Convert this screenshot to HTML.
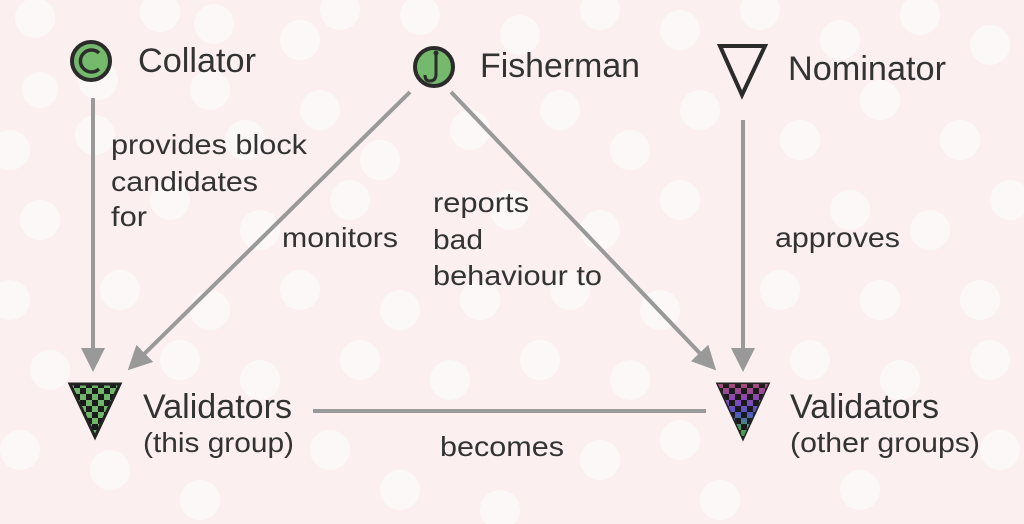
<!DOCTYPE html>
<html><head><meta charset="utf-8"><style>
html,body{margin:0;padding:0;background:#fbefef;}
svg{display:block}
text{font-family:"Liberation Sans",Arial,sans-serif;fill:#333;}
</style></head><body>
<svg width="1024" height="524" viewBox="0 0 1024 524" xmlns="http://www.w3.org/2000/svg">
<defs>
<pattern id="chkG" x="68" y="382" width="12" height="12" patternUnits="userSpaceOnUse">
<rect width="12" height="12" fill="#1a1a1a"/><rect x="0" y="0" width="6" height="6" fill="#6fb66a"/><rect x="6" y="6" width="6" height="6" fill="#6fb66a"/>
</pattern>
<linearGradient id="rb" x1="0" y1="0" x2="0" y2="1">
<stop offset="0" stop-color="#b04a70"/><stop offset="0.3" stop-color="#8a48b8"/><stop offset="0.55" stop-color="#4f58c8"/><stop offset="0.8" stop-color="#48a058"/>
</linearGradient>
<pattern id="chkR" x="717" y="382" width="12" height="12" patternUnits="userSpaceOnUse">
<rect width="12" height="12" fill="#000"/><rect x="0" y="0" width="6" height="6" fill="#fff"/><rect x="6" y="6" width="6" height="6" fill="#fff"/>
</pattern>
<mask id="mR"><polygon points="718,384 768,384 743,438" fill="url(#chkR)"/></mask>
<marker id="ah" markerWidth="6" markerHeight="6" refX="4.5" refY="3" orient="auto" markerUnits="strokeWidth">
<path d="M0,0 L6,3 L0,6 z" fill="#999"/></marker>
</defs>
<rect width="1024" height="524" fill="#fbefef"/>
<g fill="#fdf8f8">
<circle cx="35" cy="18" r="20"/><circle cx="160" cy="12" r="20"/><circle cx="214" cy="24" r="20"/><circle cx="98" cy="80" r="20"/><circle cx="210" cy="90" r="20"/><circle cx="40" cy="90" r="18"/><circle cx="300" cy="40" r="20"/><circle cx="340" cy="10" r="20"/><circle cx="420" cy="15" r="20"/><circle cx="520" cy="35" r="20"/><circle cx="600" cy="10" r="20"/><circle cx="680" cy="30" r="20"/><circle cx="760" cy="10" r="20"/><circle cx="840" cy="40" r="20"/><circle cx="920" cy="15" r="20"/><circle cx="990" cy="45" r="20"/>
<circle cx="10" cy="150" r="20"/><circle cx="95" cy="135" r="20"/><circle cx="245" cy="140" r="20"/><circle cx="320" cy="110" r="20"/><circle cx="380" cy="160" r="20"/><circle cx="470" cy="130" r="20"/><circle cx="560" cy="110" r="20"/><circle cx="630" cy="150" r="20"/><circle cx="700" cy="110" r="20"/><circle cx="800" cy="140" r="20"/><circle cx="880" cy="100" r="20"/><circle cx="960" cy="140" r="20"/>
<circle cx="40" cy="220" r="20"/><circle cx="170" cy="200" r="20"/><circle cx="260" cy="230" r="20"/><circle cx="350" cy="200" r="20"/><circle cx="510" cy="210" r="20"/><circle cx="600" cy="230" r="20"/><circle cx="680" cy="200" r="20"/><circle cx="850" cy="210" r="20"/><circle cx="930" cy="230" r="20"/><circle cx="1010" cy="200" r="20"/>
<circle cx="10" cy="300" r="20"/><circle cx="120" cy="290" r="20"/><circle cx="210" cy="310" r="20"/><circle cx="300" cy="290" r="20"/><circle cx="400" cy="310" r="20"/><circle cx="480" cy="300" r="20"/><circle cx="570" cy="290" r="20"/><circle cx="660" cy="310" r="20"/><circle cx="780" cy="290" r="20"/><circle cx="880" cy="300" r="20"/><circle cx="980" cy="300" r="20"/>
<circle cx="50" cy="370" r="20"/><circle cx="180" cy="360" r="20"/><circle cx="260" cy="380" r="20"/><circle cx="360" cy="360" r="20"/><circle cx="450" cy="380" r="20"/><circle cx="540" cy="360" r="20"/><circle cx="630" cy="380" r="20"/><circle cx="810" cy="360" r="20"/><circle cx="900" cy="380" r="20"/><circle cx="990" cy="360" r="20"/>
<circle cx="20" cy="450" r="20"/><circle cx="110" cy="470" r="20"/><circle cx="330" cy="450" r="20"/><circle cx="400" cy="490" r="20"/><circle cx="600" cy="460" r="20"/><circle cx="680" cy="440" r="20"/><circle cx="720" cy="500" r="20"/><circle cx="860" cy="490" r="20"/><circle cx="1000" cy="450" r="20"/><circle cx="200" cy="500" r="20"/><circle cx="500" cy="510" r="20"/>
</g>
<g stroke="#999" stroke-width="4" fill="none">
<line x1="93" y1="98" x2="93" y2="366" marker-end="url(#ah)"/>
<line x1="410" y1="92" x2="132" y2="366" marker-end="url(#ah)"/>
<line x1="451" y1="92" x2="712" y2="366" marker-end="url(#ah)"/>
<line x1="743" y1="120" x2="743" y2="366" marker-end="url(#ah)"/>
<line x1="313" y1="411" x2="706" y2="411"/>
</g>
<circle cx="91" cy="61" r="19" fill="#74b96c" stroke="#2b2b2b" stroke-width="4"/>
<path d="M99,53 A11,11 0 1 0 99,69" fill="none" stroke="#2b2b2b" stroke-width="3.5"/>
<circle cx="434" cy="67" r="19" fill="#74b96c" stroke="#2b2b2b" stroke-width="4"/>
<path d="M436,54 L436,74 Q436,81 430,81 Q425,81 425,75" fill="none" stroke="#2b2b2b" stroke-width="3"/>
<circle cx="436" cy="53" r="2.5" fill="#2b2b2b"/>
<polygon points="720,46 765,46 742,95" fill="none" stroke="#2b2b2b" stroke-width="4"/>
<polygon points="70,384 120,384 95,437" fill="url(#chkG)" stroke="#222" stroke-width="3"/>
<polygon points="718,384 768,384 743,438" fill="#1a1a1a" stroke="#222" stroke-width="3"/>
<rect x="717" y="382" width="52" height="58" fill="url(#rb)" mask="url(#mR)"/>
<g lengthAdjust="spacingAndGlyphs">
<text x="138" y="72" font-size="34" textLength="118" lengthAdjust="spacingAndGlyphs">Collator</text>
<text x="480" y="77" font-size="34" textLength="160" lengthAdjust="spacingAndGlyphs">Fisherman</text>
<text x="788" y="80" font-size="34" textLength="158" lengthAdjust="spacingAndGlyphs">Nominator</text>
<text x="143" y="418" font-size="34" textLength="149" lengthAdjust="spacingAndGlyphs">Validators</text>
<text x="143" y="452" font-size="28" textLength="151" lengthAdjust="spacingAndGlyphs">(this group)</text>
<text x="790" y="418" font-size="34" textLength="149" lengthAdjust="spacingAndGlyphs">Validators</text>
<text x="790" y="452" font-size="28" textLength="190" lengthAdjust="spacingAndGlyphs">(other groups)</text>
<text x="111" y="154" font-size="28" textLength="196" lengthAdjust="spacingAndGlyphs">provides block</text>
<text x="111" y="191" font-size="28" textLength="147" lengthAdjust="spacingAndGlyphs">candidates</text>
<text x="111" y="226" font-size="28" textLength="36" lengthAdjust="spacingAndGlyphs">for</text>
<text x="282" y="247" font-size="28" textLength="116" lengthAdjust="spacingAndGlyphs">monitors</text>
<text x="433" y="212" font-size="28" textLength="96" lengthAdjust="spacingAndGlyphs">reports</text>
<text x="433" y="249" font-size="28" textLength="50" lengthAdjust="spacingAndGlyphs">bad</text>
<text x="433" y="285" font-size="28" textLength="169" lengthAdjust="spacingAndGlyphs">behaviour to</text>
<text x="775" y="247" font-size="28" textLength="125" lengthAdjust="spacingAndGlyphs">approves</text>
<text x="440" y="456" font-size="28" textLength="124" lengthAdjust="spacingAndGlyphs">becomes</text>
</g>
</svg>
</body></html>
